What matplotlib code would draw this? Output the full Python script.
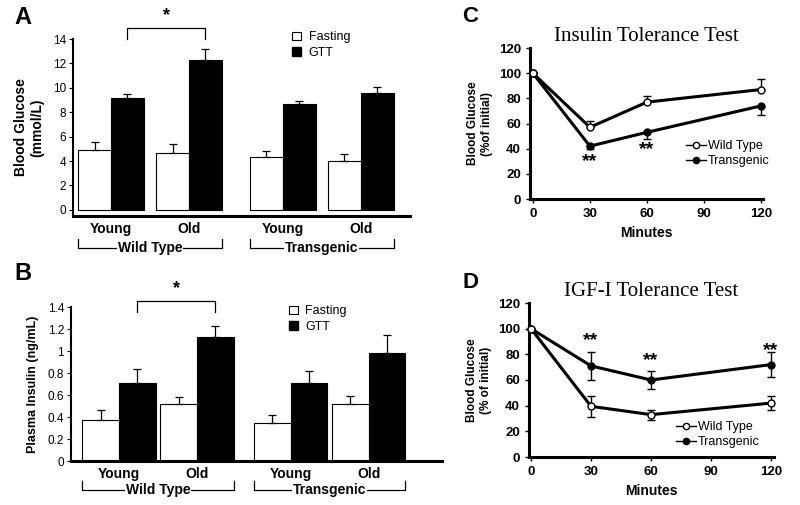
import numpy as np
import matplotlib.pyplot as plt
from matplotlib.lines import Line2D
from matplotlib.patches import Patch

plt.rcParams['font.family'] = ['Liberation Sans', 'DejaVu Sans']

# panel A / B data
ages = ['Young', 'Old', 'Young', 'Old']
groups = ['Wild Type', 'Transgenic']
glu_fast = [4.9, 4.7, 4.3, 4.0]
glu_fast_err = [0.7, 0.7, 0.5, 0.6]
glu_gtt = [9.2, 12.3, 8.7, 9.6]
glu_gtt_err = [0.3, 0.9, 0.2, 0.5]
ins_fast = [0.37, 0.52, 0.35, 0.52]
ins_fast_err = [0.09, 0.06, 0.07, 0.07]
ins_gtt = [0.71, 1.13, 0.71, 0.98]
ins_gtt_err = [0.13, 0.10, 0.11, 0.17]

# panel C / D data
minutes = [0, 30, 60, 120]
itt_wt = [100, 57, 77, 87]
itt_wt_err = [0, 5, 5, 8]
itt_tg = [100, 42, 53, 74]
itt_tg_err = [0, 2, 5, 7]
igf_wt = [100, 39.5, 33, 42]
igf_wt_err = [0, 8, 4, 5.5]
igf_tg = [100, 71, 60, 72]
igf_tg_err = [0, 11, 7, 10]
itt_sig = [(30, 30), (60, 39)]
igf_sig = [(30, 91), (60, 75), (120, 83)]

W, H = 800, 505
fig = plt.figure(figsize=(W / 100, H / 100), dpi=100)


def rect(l, t, r, b):
    return [l / W, 1 - b / H, (r - l) / W, (b - t) / H]


pos = np.array([0, 1, 2.2, 3.2])


def bar_panel(ax, fast, fast_err, gtt, gtt_err, w, ylim, yticks, yticklabels,
              br_y, br_drop, grp_y, grp_tick):
    ax.bar(pos - w / 2, fast, w, color='white', edgecolor='black', lw=0.8)
    ax.bar(pos + w / 2, gtt, w, color='black', edgecolor='black', lw=0.8)
    z = np.zeros(len(pos))
    ax.errorbar(pos - w / 2, fast, yerr=[z, fast_err], fmt='none', ecolor='black',
                elinewidth=0.9, capsize=3, capthick=0.9)
    ax.errorbar(pos + w / 2, gtt, yerr=[z, gtt_err], fmt='none', ecolor='black',
                elinewidth=0.9, capsize=3, capthick=0.9)
    ax.set_ylim(*ylim)
    ax.set_yticks(yticks, yticklabels, fontsize=8.5)
    ax.set_xticks(pos, ages, fontsize=10, fontweight='bold')
    ax.tick_params(axis='x', length=0, pad=4)
    ax.tick_params(axis='y', length=3, width=0.8, pad=2)
    for s in ['top', 'right']:
        ax.spines[s].set_visible(False)
    ax.spines['left'].set_linewidth(1.5)
    ax.spines['bottom'].set_linewidth(2.2)
    # significance bracket
    x0, x1 = pos[0] + w / 2, pos[1] + w / 2
    ax.plot([x0, x0, x1, x1], [br_y - br_drop, br_y, br_y, br_y - br_drop],
            color='black', lw=0.9, clip_on=False)
    ax.text((x0 + x1) / 2, br_y + br_drop * 0.35, '*', ha='center', va='bottom',
            fontsize=13, fontweight='bold')
    # group brackets
    for g, (a, b) in zip(groups, [(0, 1), (2, 3)]):
        gx0, gx1 = pos[a] - w, pos[b] + w
        ax.plot([gx0, gx0, gx1, gx1], [grp_tick, grp_y, grp_y, grp_tick],
                color='black', lw=0.9, clip_on=False)
        ax.text((gx0 + gx1) / 2, grp_y, g, ha='center', va='center', fontsize=10,
                fontweight='bold', bbox=dict(facecolor='white', edgecolor='none', pad=0.5))
    h = [Patch(facecolor='white', edgecolor='black', lw=0.8),
         Patch(facecolor='black', edgecolor='black')]
    return h


# Panel A
axA = fig.add_axes(rect(73, 39, 410, 216))
axA.set_xlim(-0.487, 3.83)
hA = bar_panel(axA, glu_fast, glu_fast_err, glu_gtt, glu_gtt_err, 0.42,
               (-0.5, 14), np.arange(0, 15, 2), [str(v) for v in range(0, 15, 2)],
               14.9, 0.9, -3.1, -2.4)
axA.set_ylabel('Blood Glucose\n(mmol/L)', fontsize=10, fontweight='bold', labelpad=6)
fig.legend(hA, ['Fasting', 'GTT'], loc='upper left', bbox_to_anchor=(286 / W, 1 - 25 / H),
           frameon=False, fontsize=9, handlelength=0.7, handleheight=0.7,
           handletextpad=0.6, labelspacing=0.3, borderpad=0)

# Panel B
axB = fig.add_axes(rect(71, 307, 442, 461))
axB.set_xlim(-0.615, 4.14)
hB = bar_panel(axB, ins_fast, ins_fast_err, ins_gtt, ins_gtt_err, 0.47,
               (0, 1.4), np.arange(0, 1.41, 0.2),
               ['0', '0.2', '0.4', '0.6', '0.8', '1', '1.2', '1.4'],
               1.455, 0.1, -0.26, -0.185)
axB.set_ylabel('Plasma Insulin (ng/mL)', fontsize=9, fontweight='bold', labelpad=6)
fig.legend(hB, ['Fasting', 'GTT'], loc='upper left', bbox_to_anchor=(283 / W, 1 - 299 / H),
           frameon=False, fontsize=9, handlelength=0.7, handleheight=0.7,
           handletextpad=0.6, labelspacing=0.3, borderpad=0)


def line_panel(ax, wt, wt_err, tg, tg_err, up_only, sig, ylabel, title, leg_xy):
    z = [0] * len(minutes)
    if up_only:
        we, te = [z, wt_err], [tg_err, z]
    else:
        we, te = wt_err, tg_err
    ax.errorbar(minutes, tg, yerr=te, color='black', lw=2.2, marker='o', ms=5,
                mfc='black', mec='black', elinewidth=1, capsize=3, capthick=1,
                clip_on=False, zorder=3)
    ax.errorbar(minutes, wt, yerr=we, color='black', lw=2.2, marker='o', ms=5,
                mfc='white', mec='black', mew=1, elinewidth=1, capsize=3, capthick=1,
                clip_on=False, zorder=4)
    for x, y in sig:
        ax.text(x, y, '**', ha='center', va='center', fontsize=14, fontweight='bold')
    ax.set_ylim(0, 120)
    ax.set_yticks(range(0, 121, 20))
    ax.set_xticks([0, 30, 60, 90, 120])
    ax.tick_params(labelsize=9.5, length=3, width=1)
    for lab in ax.get_xticklabels() + ax.get_yticklabels():
        lab.set_fontweight('bold')
    for s in ['top', 'right']:
        ax.spines[s].set_visible(False)
    ax.spines['left'].set_linewidth(2.2)
    ax.spines['bottom'].set_linewidth(2.2)
    ax.set_xlabel('Minutes', fontsize=10, fontweight='bold', labelpad=4)
    ax.set_ylabel(ylabel, fontsize=8.5, fontweight='bold', labelpad=4)
    ax.set_title(title, fontsize=15, family='Liberation Serif', pad=5)
    hs = [Line2D([], [], color='black', lw=1, marker='o', ms=4.5, mfc='white', mec='black'),
          Line2D([], [], color='black', lw=1, marker='o', ms=4.5, mfc='black', mec='black')]
    fig.legend(hs, ['Wild Type', 'Transgenic'], loc='upper left',
               bbox_to_anchor=(leg_xy[0] / W, 1 - leg_xy[1] / H), frameon=False,
               fontsize=9, handlelength=1.6, handletextpad=0.15, labelspacing=0.25,
               borderpad=0)


axC = fig.add_axes(rect(530, 48, 763, 199))
axC.set_xlim(-1.5, 121)
line_panel(axC, itt_wt, itt_wt_err, itt_tg, itt_tg_err, True, itt_sig,
           'Blood Glucose\n(%of initial)', 'Insulin Tolerance Test', (680, 134))

axD = fig.add_axes(rect(529, 303, 774, 457))
axD.set_xlim(-1, 121.5)
line_panel(axD, igf_wt, igf_wt_err, igf_tg, igf_tg_err, False, igf_sig,
           'Blood Glucose\n(% of initial)', 'IGF-I Tolerance Test', (670, 415))

# panel letters
for lab, x, y, fs in [('A', 14, 17, 17), ('B', 14, 273, 17), ('C', 462, 16, 16), ('D', 462, 282, 16)]:
    fig.text(x / W, 1 - y / H, lab, fontsize=fs, fontweight='bold', va='center', ha='left')

fig.savefig('out.png', dpi=100)
